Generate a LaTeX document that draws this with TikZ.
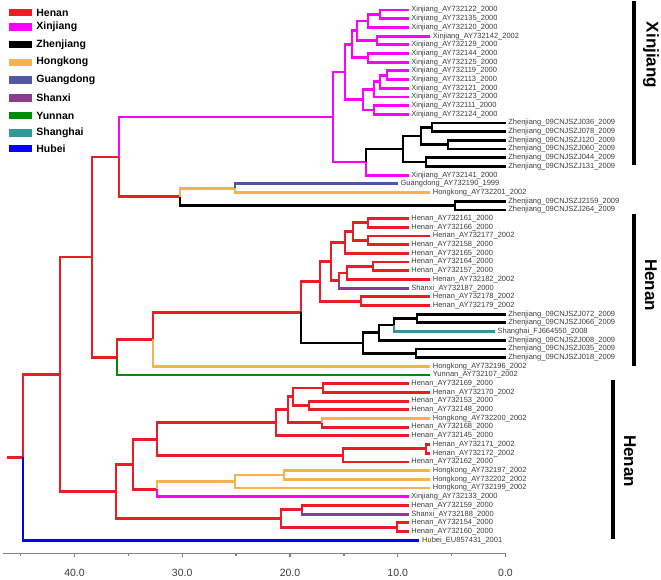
\documentclass[tikz,border=0pt]{standalone}
\usepackage{fontspec}
\setmainfont{Liberation Sans}

\definecolor{henan}{RGB}{236,28,36}
\definecolor{xinjiang}{RGB}{255,0,255}
\definecolor{zhenjiang}{RGB}{0,0,0}
\definecolor{hongkong}{RGB}{246,178,76}
\definecolor{guangdong}{RGB}{84,84,164}
\definecolor{shanxi}{RGB}{140,60,140}
\definecolor{yunnan}{RGB}{0,140,0}
\definecolor{shanghai}{RGB}{52,150,150}
\definecolor{hubei}{RGB}{0,0,255}
\definecolor{labelgray}{RGB}{60,60,60}
\definecolor{axisgray}{RGB}{130,130,130}

\begin{document}
\begin{tikzpicture}[x=1pt,y=-1pt,line width=2.8pt]
   \tikzset{leaf/.style={anchor=west,inner sep=1.5pt,font=\fontsize{7.5}{8}\selectfont,text=labelgray},
            swatch/.style={draw=none,inner sep=0pt,minimum width=23pt,minimum height=7.5pt},
            key/.style={anchor=west,inner sep=0pt,font=\fontsize{10.5}{12}\selectfont\bfseries},
            tick/.style={font=\fontsize{10.5}{12}\selectfont,text=labelgray},
            clade/.style={rotate=-90,font=\fontsize{17}{18}\selectfont\bfseries},
            bar/.style={line width=4.5pt,black},
            axis/.style={line width=1.3pt,axisgray}};

\useasboundingbox (0,0) rectangle (661,579);

% legend
\node[swatch,fill=henan] (s1) at (20.5,12.5) {};
\node[key] (k1) at (35,12.5) {Henan};
\node[swatch,fill=xinjiang] (s2) at (20.5,27) {};
\node[key] (k2) at (35,27) {Xinjiang};
\node[swatch,fill=zhenjiang] (s3) at (20.5,44.5) {};
\node[key] (k3) at (35,44.5) {Zhenjiang};
\node[swatch,fill=hongkong] (s4) at (20.5,62.3) {};
\node[key] (k4) at (35,62.3) {Hongkong};
\node[swatch,fill=guangdong] (s5) at (20.5,80.2) {};
\node[key] (k5) at (35,80.2) {Guangdong};
\node[swatch,fill=shanxi] (s6) at (20.5,98) {};
\node[key] (k6) at (35,98) {Shanxi};
\node[swatch,fill=yunnan] (s7) at (20.5,115.5) {};
\node[key] (k7) at (35,115.5) {Yunnan};
\node[swatch,fill=shanghai] (s8) at (20.5,133) {};
\node[key] (k8) at (35,133) {Shanghai};
\node[swatch,fill=hubei] (s9) at (20.5,148.7) {};
\node[key] (k9) at (35,148.7) {Hubei};

% tips
\node[leaf] (1) at (408.5,10.0) {Xinjiang\_AY732122\_2000};
\node[leaf] (2) at (408.5,18.7) {Xinjiang\_AY732135\_2000};
\node[leaf] (3) at (408.5,27.4) {Xinjiang\_AY732120\_2000};
\node[leaf] (4) at (430,36.1) {Xinjiang\_AY732142\_2002};
\node[leaf] (5) at (408.5,44.8) {Xinjiang\_AY732129\_2000};
\node[leaf] (6) at (408.5,53.4) {Xinjiang\_AY732144\_2000};
\node[leaf] (7) at (408.5,62.1) {Xinjiang\_AY732125\_2000};
\node[leaf] (8) at (408.5,70.8) {Xinjiang\_AY732119\_2000};
\node[leaf] (9) at (408.5,79.5) {Xinjiang\_AY732113\_2000};
\node[leaf] (10) at (408.5,88.2) {Xinjiang\_AY732121\_2000};
\node[leaf] (11) at (408.5,96.9) {Xinjiang\_AY732123\_2000};
\node[leaf] (12) at (408.5,105.6) {Xinjiang\_AY732111\_2000};
\node[leaf] (13) at (408.5,114.3) {Xinjiang\_AY732124\_2000};
\node[leaf] (14) at (505.5,123.0) {Zhenjiang\_09CNJSZJ036\_2009};
\node[leaf] (15) at (505.5,131.6) {Zhenjiang\_09CNJSZJ078\_2009};
\node[leaf] (16) at (505.5,140.3) {Zhenjiang\_09CNJSZJ120\_2009};
\node[leaf] (17) at (505.5,149.0) {Zhenjiang\_09CNJSZJ060\_2009};
\node[leaf] (18) at (505.5,157.7) {Zhenjiang\_09CNJSZJ044\_2009};
\node[leaf] (19) at (505.5,166.4) {Zhenjiang\_09CNJSZJ131\_2009};
\node[leaf] (20) at (408.5,175.1) {Xinjiang\_AY732141\_2000};
\node[leaf] (21) at (397.7,183.8) {Guangdong\_AY732190\_1999};
\node[leaf] (22) at (430,192.5) {Hongkong\_AY732201\_2002};
\node[leaf] (23) at (505.5,201.2) {Zhenjiang\_09CNJSZJ2159\_2009};
\node[leaf] (24) at (505.5,209.9) {Zhenjiang\_09CNJSZJ264\_2009};
\node[leaf] (25) at (408.5,218.5) {Henan\_AY732161\_2000};
\node[leaf] (26) at (408.5,227.2) {Henan\_AY732166\_2000};
\node[leaf] (27) at (430,235.9) {Henan\_AY732177\_2002};
\node[leaf] (28) at (408.5,244.6) {Henan\_AY732158\_2000};
\node[leaf] (29) at (408.5,253.3) {Henan\_AY732165\_2000};
\node[leaf] (30) at (408.5,262.0) {Henan\_AY732164\_2000};
\node[leaf] (31) at (408.5,270.7) {Henan\_AY732157\_2000};
\node[leaf] (32) at (430,279.4) {Henan\_AY732182\_2002};
\node[leaf] (33) at (408.5,288.1) {Shanxi\_AY732187\_2000};
\node[leaf] (34) at (430,296.8) {Henan\_AY732178\_2002};
\node[leaf] (35) at (430,305.5) {Henan\_AY732179\_2002};
\node[leaf] (36) at (505.5,314.1) {Zhenjiang\_09CNJSZJ072\_2009};
\node[leaf] (37) at (505.5,322.8) {Zhenjiang\_09CNJSZJ066\_2009};
\node[leaf] (38) at (494.7,331.5) {Shanghai\_FJ664550\_2008};
\node[leaf] (39) at (505.5,340.2) {Zhenjiang\_09CNJSZJ008\_2009};
\node[leaf] (40) at (505.5,348.9) {Zhenjiang\_09CNJSZJ035\_2009};
\node[leaf] (41) at (505.5,357.6) {Zhenjiang\_09CNJSZJ018\_2009};
\node[leaf] (42) at (430,366.3) {Hongkong\_AY732196\_2002};
\node[leaf] (43) at (430,375.0) {Yunnan\_AY732107\_2002};
\node[leaf] (44) at (408.5,383.7) {Henan\_AY732169\_2000};
\node[leaf] (45) at (430,392.4) {Henan\_AY732170\_2002};
\node[leaf] (46) at (408.5,401.1) {Henan\_AY732153\_2000};
\node[leaf] (47) at (408.5,409.8) {Henan\_AY732148\_2000};
\node[leaf] (48) at (430,418.5) {Hongkong\_AY732200\_2002};
\node[leaf] (49) at (408.5,427.1) {Henan\_AY732168\_2000};
\node[leaf] (50) at (408.5,435.8) {Henan\_AY732145\_2000};
\node[leaf] (51) at (430,444.5) {Henan\_AY732171\_2002};
\node[leaf] (52) at (430,453.2) {Henan\_AY732172\_2002};
\node[leaf] (53) at (408.5,461.9) {Henan\_AY732162\_2000};
\node[leaf] (54) at (430,470.6) {Hongkong\_AY732197\_2002};
\node[leaf] (55) at (430,479.3) {Hongkong\_AY732202\_2002};
\node[leaf] (56) at (430,488.0) {Hongkong\_AY732199\_2002};
\node[leaf] (57) at (408.5,496.7) {Xinjiang\_AY732133\_2000};
\node[leaf] (58) at (408.5,505.4) {Henan\_AY732159\_2000};
\node[leaf] (59) at (408.5,514.1) {Shanxi\_AY732188\_2000};
\node[leaf] (60) at (408.5,522.8) {Henan\_AY732154\_2000};
\node[leaf] (61) at (408.5,531.5) {Henan\_AY732160\_2000};
\node[leaf] (62) at (419.3,540.2) {Hubei\_EU857431\_2001};

% inner nodes
\coordinate (x12) at (380,14.35);
\coordinate (x123) at (368,20.9);
\coordinate (x45) at (377,40.45);
\coordinate (x15) at (357,30.7);
\coordinate (x67) at (368,57.75);
\coordinate (x17) at (352,44.2);
\coordinate (x89) at (387,75.15);
\coordinate (x810) at (380,81.7);
\coordinate (x811) at (374,89.3);
\coordinate (x1213) at (374,109.95);
\coordinate (x813) at (363,99.6);
\coordinate (x113) at (345,71.9);
\coordinate (z1415) at (432,127.3);
\coordinate (z1617) at (448,144.65);
\coordinate (z1417) at (421,136);
\coordinate (z1819) at (426,162.05);
\coordinate (z1419) at (403,149);
\coordinate (xz) at (366,162.05);
\coordinate (xin) at (333,117);
\coordinate (gh) at (235,188.15);
\coordinate (z2324) at (455,205.55);
\coordinate (ghz) at (180,196.85);
\coordinate (n1) at (119,156.9);
\coordinate (h2526) at (368,222.85);
\coordinate (h2728) at (368,240.25);
\coordinate (h2528) at (353,231.55);
\coordinate (h2529) at (345,242.4);
\coordinate (h3031) at (373,266.35);
\coordinate (h3032) at (347,272.9);
\coordinate (h3033) at (339,280.5);
\coordinate (h2533) at (331,261.45);
\coordinate (h3435) at (361,301.15);
\coordinate (h2535) at (320,281.3);
\coordinate (z3637) at (417,318.45);
\coordinate (z3638) at (394,325);
\coordinate (z3639) at (379,332.6);
\coordinate (z4041) at (416,353.25);
\coordinate (z3641) at (363,342.9);
\coordinate (hz) at (301,312.1);
\coordinate (hzh) at (153,339.2);
\coordinate (hzy) at (117,357.1);
\coordinate (n2) at (92,257);
\coordinate (h4445) at (323,388.05);
\coordinate (h4647) at (309,405.45);
\coordinate (h4447) at (293,396.75);
\coordinate (h4849) at (322,422.8);
\coordinate (h4449) at (288,409.8);
\coordinate (h4450) at (276,422.8);
\coordinate (h5152) at (426,448.85);
\coordinate (h5153) at (343,455.4);
\coordinate (h4453) at (157,439.1);
\coordinate (k5455) at (284,474.95);
\coordinate (k5456) at (235,481.5);
\coordinate (k5457) at (157,489.1);
\coordinate (h4457) at (133,464.1);
\coordinate (h5859) at (302,509.75);
\coordinate (h6061) at (397,527.15);
\coordinate (h5861) at (281,518.45);
\coordinate (h4461) at (116,491.3);
\coordinate (n3) at (60,374.15);
\coordinate (root) at (23,457.2);
\coordinate (start) at (7,457.2);

% branches
\draw[henan] (start) -- (root) (root) |- (n3) (n3) |- (n2) (n3) |- (h4461)
   (n2) |- (n1) (n2) |- (hzy) (n1) |- (ghz) (hzy) |- (hzh) (hzh) |- (hz) (hz) |- (h2535)
   (h2526) |- (25.west) (h2526) |- (26.west) (h2728) |- (27.west) (h2728) |- (28.west)
   (h2528) |- (h2526) (h2528) |- (h2728) (h2529) |- (h2528) (h2529) |- (29.west)
   (h3031) |- (30.west) (h3031) |- (31.west) (h3032) |- (h3031) (h3032) |- (32.west)
   (h3033) |- (h3032) (h2533) |- (h2529) (h2533) |- (h3033)
   (h3435) |- (34.west) (h3435) |- (35.west) (h2535) |- (h2533) (h2535) |- (h3435)
   (h4445) |- (44.west) (h4445) |- (45.west) (h4647) |- (46.west) (h4647) |- (47.west)
   (h4447) |- (h4445) (h4447) |- (h4647) (h4849) |- (49.west)
   (h4449) |- (h4447) (h4449) |- (h4849) (h4450) |- (h4449) (h4450) |- (50.west)
   (h5152) |- (51.west) (h5152) |- (52.west) (h5153) |- (h5152) (h5153) |- (53.west)
   (h4453) |- (h4450) (h4453) |- (h5153) (h4457) |- (h4453) (h4457) |- (k5457)
   (h5859) |- (58.west) (h6061) |- (60.west) (h6061) |- (61.west)
   (h5861) |- (h5859) (h5861) |- (h6061) (h4461) |- (h4457) (h4461) |- (h5861);
\draw[xinjiang] (x12) |- (1.west) (x12) |- (2.west) (x123) |- (x12) (x123) |- (3.west)
   (x45) |- (4.west) (x45) |- (5.west) (x15) |- (x123) (x15) |- (x45)
   (x67) |- (6.west) (x67) |- (7.west) (x17) |- (x15) (x17) |- (x67)
   (x89) |- (8.west) (x89) |- (9.west) (x810) |- (x89) (x810) |- (10.west)
   (x811) |- (x810) (x811) |- (11.west) (x1213) |- (12.west) (x1213) |- (13.west)
   (x813) |- (x811) (x813) |- (x1213) (x113) |- (x17) (x113) |- (x813)
   (xz) |- (20.west) (xin) |- (x113) (xin) |- (xz) (n1) |- (xin)
   (k5457) |- (57.west);
\draw[zhenjiang] (z1415) |- (14.west) (z1415) |- (15.west) (z1617) |- (16.west) (z1617) |- (17.west)
   (z1417) |- (z1415) (z1417) |- (z1617) (z1819) |- (18.west) (z1819) |- (19.west)
   (z1419) |- (z1417) (z1419) |- (z1819) (xz) |- (z1419)
   (z2324) |- (23.west) (z2324) |- (24.west) (ghz) |- (z2324)
   (z3637) |- (36.west) (z3637) |- (37.west) (z3638) |- (z3637) (z3639) |- (z3638) (z3639) |- (39.west)
   (z4041) |- (40.west) (z4041) |- (41.west) (z3641) |- (z3639) (z3641) |- (z4041) (hz) |- (z3641);
\draw[hongkong] (gh) |- (22.west) (ghz) |- (gh) (hzh) |- (42.west) (h4849) |- (48.west)
   (k5455) |- (54.west) (k5455) |- (55.west) (k5456) |- (k5455) (k5456) |- (56.west) (k5457) |- (k5456);
\draw[guangdong] (gh) |- (21.west);
\draw[shanxi] (h3033) |- (33.west) (h5859) |- (59.west);
\draw[shanghai] (z3638) |- (38.west);
\draw[yunnan] (hzy) |- (43.west);
\draw[hubei] (root) |- (62.west);

% clade bars
\draw[bar] (634,1) -- (634,165);
\node[clade] (c1) at (651,55) {Xinjiang};
\draw[bar] (634,214) -- (634,366);
\node[clade] (c2) at (651,285) {Henan};
\draw[bar] (613,380) -- (613,539);
\node[clade] (c3) at (630,461) {Henan};

% time axis
\draw[axis] (3,553.5) -- (505.5,553.5);
\draw[axis] (20.6,553.5) -- (20.6,556) (128.4,553.5) -- (128.4,556) (236.1,553.5) -- (236.1,556)
   (343.9,553.5) -- (343.9,556) (451.6,553.5) -- (451.6,556);
\draw[axis] (74.5,553.5) -- (74.5,557) (182.2,553.5) -- (182.2,557) (290,553.5) -- (290,557)
   (397.7,553.5) -- (397.7,557) (505.5,553.5) -- (505.5,557);
\node[tick] (t40) at (74.5,572.7) {40.0};
\node[tick] (t30) at (182.2,572.7) {30.0};
\node[tick] (t20) at (290,572.7) {20.0};
\node[tick] (t10) at (397.7,572.7) {10.0};
\node[tick] (t0) at (505.5,572.7) {0.0};

\end{tikzpicture}
\end{document}
